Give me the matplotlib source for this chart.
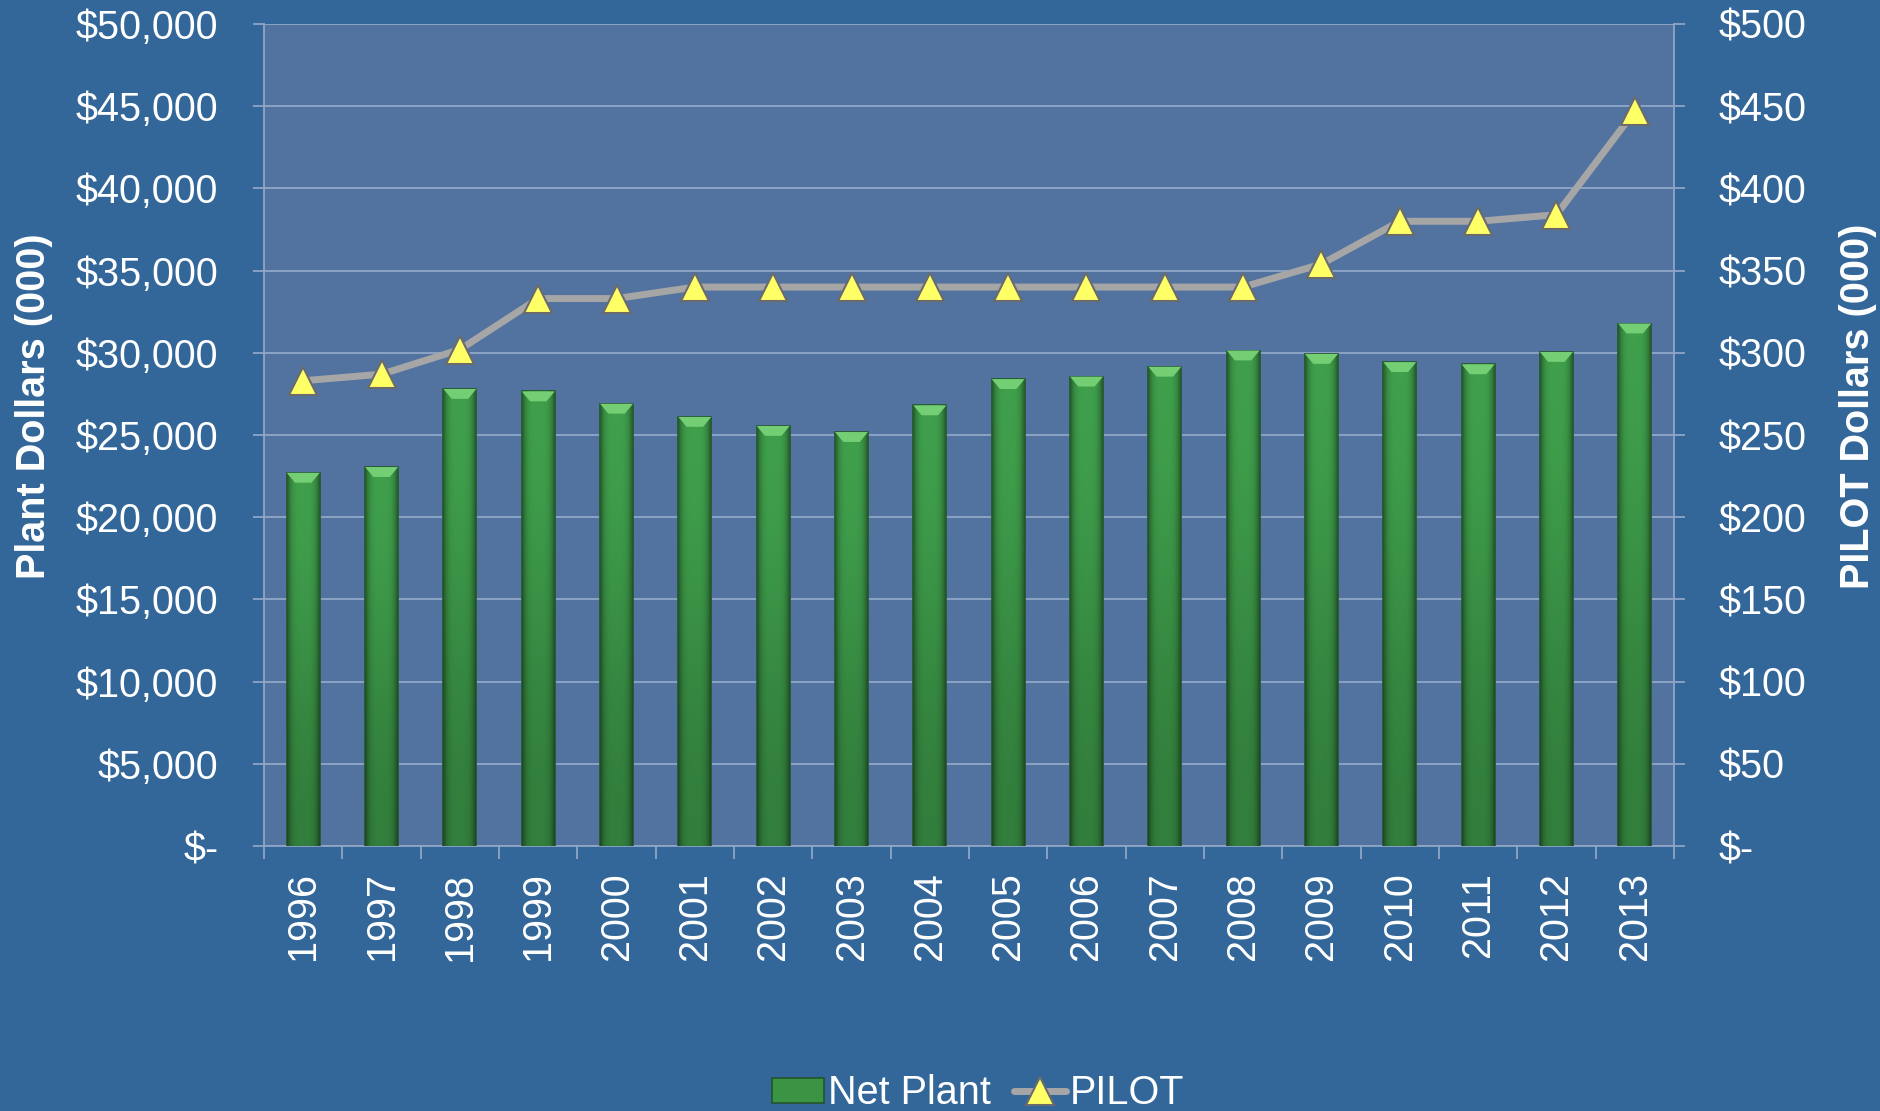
import matplotlib
matplotlib.use('Agg')
from matplotlib import pyplot as plt
from matplotlib.patches import Polygon, Patch
from matplotlib.lines import Line2D
from matplotlib.ticker import FuncFormatter, FixedLocator
import numpy as np

years = ['1996', '1997', '1998', '1999', '2000', '2001', '2002', '2003', '2004',
         '2005', '2006', '2007', '2008', '2009', '2010', '2011', '2012', '2013']
net_plant = [22700, 23050, 27800, 27650, 26900, 26100, 25550, 25180, 26800,
             28400, 28550, 29150, 30140, 29930, 29430, 29300, 30050, 31780]
pilot = [283, 287, 302, 333, 333, 340, 340, 340, 340,
         340, 340, 340, 340, 354, 380, 380, 384, 447]

BG = '#336699'
PLOT_BG = '#52739f'
GRID = '#8fa6c6'
WHITE = '#ffffff'

plt.rcParams['font.family'] = ['Liberation Sans', 'DejaVu Sans']
FS = 28.5

fig = plt.figure(figsize=(18.81, 11.11), dpi=100, facecolor=BG)
ax = fig.add_axes([0.1404, 0.2385, 0.7495, 0.7399])
ax.set_facecolor(PLOT_BG)

x = np.arange(len(years))
ax.set_xlim(-0.5, len(years) - 0.5)
ax.set_ylim(0, 50000)

# bars with a simple cylinder-like shading
bars = ax.bar(x, net_plant, width=0.42, color='#3a9443', edgecolor='#24552a',
              linewidth=1.2, zorder=3)
grad = np.linspace(-1, 1, 64)
shade = 1 - 0.45 * grad ** 4
base = np.array([0.25, 0.63, 0.30])
img = np.ones((2, 64, 3))
img[0] = base[None, :] * shade[:, None]
img[1] = (base * 0.78)[None, :] * shade[:, None]
for b in bars:
    bx, by = b.get_x(), b.get_y()
    bw, bh = b.get_width(), b.get_height()
    im = ax.imshow(img, extent=[bx, bx + bw, by, by + bh], origin='upper',
                   aspect='auto', interpolation='bicubic', zorder=3.5)
    im.set_clip_path(b)
    # light bevel on the top of each bar
    bev = 600
    top = Polygon([[bx, by + bh], [bx + bw, by + bh],
                   [bx + bw * 0.75, by + bh - bev], [bx + bw * 0.25, by + bh - bev]],
                  closed=True, facecolor='#74cf74', edgecolor='none', zorder=3.6)
    ax.add_patch(top)
    ax.add_patch(Polygon(b.get_verts(), closed=True, fill=False,
                         edgecolor='#24552a', linewidth=1.2, zorder=3.7))

ax.set_aspect('auto')

# gridlines
ax.yaxis.set_major_locator(FixedLocator(np.arange(0, 50001, 5000)))
ax.grid(axis='y', color=GRID, linewidth=1.3, zorder=0)
ax.set_axisbelow(True)

def money_fmt(v, pos):
    return '$-' if v == 0 else '${:,.0f}'.format(v)

ax.yaxis.set_major_formatter(FuncFormatter(money_fmt))
ax.tick_params(axis='y', colors=GRID, labelcolor=WHITE, labelsize=FS,
               length=8, width=1.3, pad=25)

# x ticks: labels at bars, tick marks between categories
ax.set_xticks(x)
ax.set_xticklabels(years, rotation=90)
ax.set_xticks(np.arange(-0.5, len(years), 1), minor=True)
ax.tick_params(axis='x', which='major', length=0, labelcolor=WHITE,
               labelsize=FS, pad=19)
ax.tick_params(axis='x', which='minor', length=9, width=1.3, colors=GRID)

for side in ['top', 'right']:
    ax.spines[side].set_visible(False)
for side in ['left', 'bottom']:
    ax.spines[side].set_color(GRID)
    ax.spines[side].set_linewidth(1.3)

ax.set_ylabel('Plant Dollars (000)', color=WHITE, fontsize=FS, fontweight='bold')
ax.yaxis.set_label_coords(-0.1496, 0.535)

# secondary axis for PILOT
ax2 = ax.twinx()
ax2.set_ylim(0, 500)
ax2.yaxis.set_major_locator(FixedLocator(np.arange(0, 501, 50)))
ax2.yaxis.set_major_formatter(FuncFormatter(money_fmt))
ax2.tick_params(axis='y', colors=GRID, labelcolor=WHITE, labelsize=FS,
                length=8, width=1.3, pad=24.5)
for side in ['top', 'left', 'bottom']:
    ax2.spines[side].set_visible(False)
ax2.spines['right'].set_color(GRID)
ax2.spines['right'].set_linewidth(1.3)

ax2.plot(x, pilot, color='#a6a6a6', linewidth=5, zorder=4,
         solid_joinstyle='round', solid_capstyle='round')
ax2.plot(x, pilot, linestyle='none', marker='^', markersize=19.5,
         markerfacecolor='#ffff66', markeredgecolor='#6b6b6b',
         markeredgewidth=1.5, zorder=5)

ax2.set_ylabel('PILOT Dollars (000)', color=WHITE, fontsize=FS, fontweight='bold')
ax2.yaxis.set_label_coords(1.117, 0.535)

# legend
handles = [
    Patch(facecolor='#3a9443', edgecolor='#24552a', linewidth=1.2),
    Line2D([0], [0], color='#a6a6a6', linewidth=5, marker='^', markersize=19.5,
           markerfacecolor='#ffff66', markeredgecolor='#6b6b6b', markeredgewidth=1.5,
           solid_capstyle='round'),
]
leg = fig.legend(handles, ['Net Plant', 'PILOT'], loc='center',
                 bbox_to_anchor=(0.52, 0.016), ncol=2, frameon=False,
                 fontsize=FS, labelcolor=WHITE, handlelength=1.3,
                 handleheight=0.6, handletextpad=0.1, columnspacing=0.6)

plt.savefig('out.png', dpi=100, facecolor=BG)
plt.close()
